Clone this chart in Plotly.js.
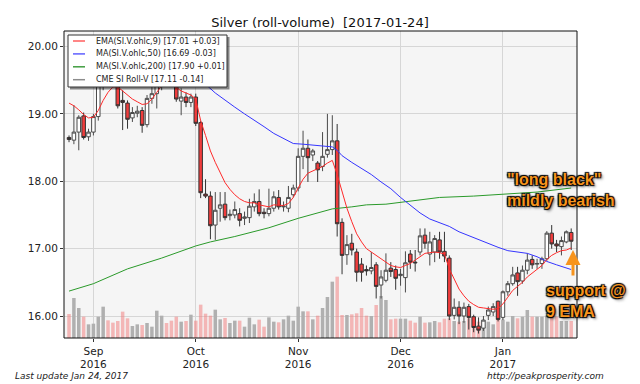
<!DOCTYPE html>
<html><head><meta charset="utf-8">
<script src="https://cdn.plot.ly/plotly-3.0.1.min.js"></script>
<style>html,body{margin:0;padding:0;background:#fff;}#chart{width:640px;height:384px;}</style>
</head><body><div id="chart"></div>
<script>
const dates = [
 '2016-08-25','2016-08-26','2016-08-29','2016-08-30','2016-08-31',
 '2016-09-01','2016-09-02','2016-09-06','2016-09-07','2016-09-08','2016-09-09','2016-09-12','2016-09-13','2016-09-14','2016-09-15','2016-09-16','2016-09-19','2016-09-20','2016-09-21','2016-09-22','2016-09-23','2016-09-26','2016-09-27','2016-09-28','2016-09-29','2016-09-30',
 '2016-10-03','2016-10-04','2016-10-05','2016-10-06','2016-10-07','2016-10-10','2016-10-11','2016-10-12','2016-10-13','2016-10-14','2016-10-17','2016-10-18','2016-10-19','2016-10-20','2016-10-21','2016-10-24','2016-10-25','2016-10-26','2016-10-27','2016-10-28','2016-10-31',
 '2016-11-01','2016-11-02','2016-11-03','2016-11-04','2016-11-07','2016-11-08','2016-11-09','2016-11-10','2016-11-11','2016-11-14','2016-11-15','2016-11-16','2016-11-17','2016-11-18','2016-11-21','2016-11-22','2016-11-23','2016-11-25','2016-11-28','2016-11-29','2016-11-30',
 '2016-12-01','2016-12-02','2016-12-05','2016-12-06','2016-12-07','2016-12-08','2016-12-09','2016-12-12','2016-12-13','2016-12-14','2016-12-15','2016-12-16','2016-12-19','2016-12-20','2016-12-21','2016-12-22','2016-12-23','2016-12-27','2016-12-28','2016-12-29','2016-12-30',
 '2017-01-03','2017-01-04','2017-01-05','2017-01-06','2017-01-09','2017-01-10','2017-01-11','2017-01-12','2017-01-13','2017-01-17','2017-01-18','2017-01-19','2017-01-20','2017-01-23','2017-01-24'
];
const openP = [18.65,18.61,18.73,18.97,18.66,18.73,18.96,19.43,19.75,19.70,
 19.55,19.20,19.16,18.94,19.01,19.05,18.84,19.23,19.30,19.45,
 19.80,19.72,19.55,19.19,19.25,19.17,19.25,18.87,17.81,17.78,
 17.35,17.60,17.66,17.49,17.50,17.52,17.45,17.46,17.62,17.70,
 17.54,17.52,17.60,17.76,17.62,17.60,17.80,17.90,18.37,18.49,
 18.39,18.27,18.22,18.40,18.47,18.60,17.39,16.91,17.08,16.95,
 16.77,16.69,16.67,16.76,16.46,16.53,16.71,16.69,16.60,16.57,
 16.92,16.80,16.95,17.20,16.92,16.95,17.13,16.96,16.86,16.01,
 16.13,16.00,16.14,15.99,15.85,15.82,16.01,16.06,16.22,15.98,
 16.36,16.48,16.64,16.52,16.68,16.84,16.77,16.78,16.85,17.23,
 17.07,17.03,17.10,17.24];
const highP = [18.68,19.13,18.98,19.02,18.78,19.00,19.50,19.80,19.95,19.78,
 19.60,19.35,19.20,19.10,19.12,19.10,19.28,19.40,19.55,19.75,
 19.92,19.78,19.60,19.38,19.32,19.30,19.30,18.90,18.03,17.85,
 17.84,17.84,17.84,17.58,17.70,17.60,17.55,17.74,17.82,17.88,
 17.60,17.89,17.85,17.87,17.70,17.93,17.95,18.49,18.75,18.62,
 18.48,18.30,18.73,19.00,18.98,18.85,17.45,17.20,17.22,17.00,
 16.86,16.75,16.95,16.80,16.68,16.93,16.80,16.75,16.70,16.96,
 16.98,16.98,17.30,17.30,17.25,17.20,17.25,17.25,16.90,16.26,
 16.22,16.20,16.18,16.02,15.98,16.00,16.14,16.19,16.23,16.38,
 16.52,16.73,16.73,16.75,16.93,16.90,16.85,16.88,17.26,17.35,
 17.13,17.18,17.27,17.30];
const lowP = [18.58,18.55,18.46,18.62,18.60,18.68,18.90,19.35,19.60,19.50,
 19.08,18.76,18.78,18.88,18.95,18.72,18.80,19.15,19.08,19.35,
 19.60,19.50,19.18,18.98,19.10,19.10,18.82,17.75,17.75,17.14,
 17.13,17.40,17.42,17.42,17.45,17.33,17.35,17.38,17.55,17.48,
 17.45,17.48,17.55,17.58,17.55,17.54,17.76,17.85,18.18,17.99,
 18.30,17.99,18.15,18.35,18.39,17.18,16.62,16.76,16.90,16.51,
 16.51,16.60,16.62,16.26,16.26,16.50,16.58,16.39,16.45,16.35,
 16.70,16.66,16.90,17.00,16.75,16.80,16.85,16.80,15.94,15.95,
 15.88,15.90,15.80,15.76,15.74,15.78,15.94,16.00,15.92,15.94,
 16.30,16.45,16.30,16.48,16.62,16.70,16.70,16.70,16.82,17.00,
 16.95,16.90,17.08,16.98];
const closeP = [18.62,18.73,18.95,18.65,18.73,18.96,19.43,19.75,19.70,19.55,
 19.12,19.17,18.92,19.02,19.04,18.83,19.23,19.30,19.45,19.70,
 19.72,19.55,19.22,19.25,19.17,19.25,18.86,17.83,17.78,17.34,
 17.57,17.65,17.46,17.51,17.58,17.42,17.47,17.63,17.70,17.52,
 17.52,17.60,17.77,17.62,17.63,17.76,17.90,18.37,18.49,18.35,
 18.45,18.17,18.37,18.47,18.60,17.37,16.90,17.06,16.98,16.65,
 16.65,16.67,16.72,16.44,16.58,16.68,16.66,16.56,16.62,16.79,
 16.80,16.79,17.19,17.08,17.10,17.15,16.95,16.89,16.00,16.13,
 16.00,16.13,15.98,15.83,15.79,15.94,16.09,16.14,15.95,16.36,
 16.48,16.61,16.51,16.68,16.83,16.76,16.78,16.85,17.23,17.07,
 17.04,17.12,17.25,17.11];
const volume = [72,120,90,64,41,43,64,94,53,46,
 51,79,59,36,41,39,45,34,82,67,
 45,52,64,49,51,70,52,100,73,67,
 85,56,60,45,52,52,34,61,41,55,
 34,62,49,47,56,67,52,94,80,80,
 56,67,90,123,169,184,69,69,71,74,
 90,67,66,99,126,114,56,58,58,58,
 52,46,64,46,47,51,47,58,59,51,
 49,51,59,39,49,39,49,41,59,55,
 49,66,59,64,84,64,64,64,66,64,
 64,51,51,51];
const ema9 = [19.16,19.12,19.06,18.99,18.94,18.95,19.05,19.20,19.32,19.40,
 19.40,19.34,19.28,19.22,19.18,19.14,19.15,19.22,19.32,19.42,
 19.48,19.45,19.39,19.34,19.31,19.28,19.22,18.90,18.68,18.45,
 18.28,18.12,17.98,17.88,17.80,17.74,17.70,17.68,17.68,17.65,
 17.63,17.62,17.65,17.65,17.64,17.67,17.76,17.90,18.03,18.12,
 18.15,18.18,18.22,18.27,18.31,18.10,17.85,17.60,17.40,17.22,
 17.10,17.00,16.95,16.90,16.86,16.80,16.75,16.73,16.72,16.75,
 16.78,16.83,16.88,16.93,16.94,16.95,16.94,16.92,16.70,16.55,
 16.40,16.30,16.22,16.17,16.13,16.12,16.11,16.10,16.11,16.18,
 16.28,16.38,16.44,16.50,16.58,16.64,16.70,16.75,16.84,16.90,
 16.94,16.97,16.98,17.01];
const ma50Idx = [26,28,30,32,34,36,38,40,42,44,46,48,50,52,54,55,56,58,60,62,64,66,68,70,72,74,76,78,80,83,86,88,90,92,94,96,98,100,102,103];
const ma50Val = [19.55,19.44,19.31,19.20,19.10,19.00,18.91,18.81,18.71,18.64,18.56,18.55,18.54,18.53,18.51,18.46,18.38,18.28,18.19,18.10,17.99,17.89,17.76,17.64,17.53,17.44,17.39,17.33,17.25,17.16,17.07,17.02,16.97,16.95,16.93,16.88,16.81,16.76,16.72,16.69];
const ma200Idx = [0,5,12,19,26,29,34,39,41,47,54,58,61,65,69,73,76,83,90,96,103];
const ma200Val = [16.37,16.48,16.70,16.86,17.04,17.10,17.18,17.27,17.31,17.45,17.59,17.62,17.65,17.66,17.70,17.73,17.76,17.78,17.81,17.84,17.90];
const tickDates = ['2016-09-01','2016-10-03','2016-11-01','2016-12-01','2017-01-03'];
const tickLabels = ['Sep<br>2016','Oct<br>2016','Nov<br>2016','Dec<br>2016','Jan<br>2017'];
const priceTicks = [16,17,18,19,20];
const legendLabels = ['EMA(SI.V.ohlc,9) [17.01 +0.03]','MA(SI.V.ohlc,50) [16.69 -0.03]','MA(SI.V.ohlc,200) [17.90 +0.01]','CME SI Roll-V [17.11 -0.14]'];
const legendColors = ['rgba(255,40,40,0.75)','rgba(40,40,255,0.75)','rgba(30,140,30,0.85)','#8c8c8c'];
const titleText = 'Silver (roll-volume)\u00a0 [2017-01-24]';

// plot box in pixels
const L=64, R=577, T=31, B=338;
const px = x => (x-L)/(R-L);
const py = y => (B-y)/(B-T);

const volColors = closeP.map((c,i) => c < openP[i] ? 'rgba(240,130,130,0.55)' : '#b0b0b0');

const traces = [
 {type:'bar', x:dates, y:volume, yaxis:'y', xaxis:'x', marker:{color:volColors, line:{width:0}}, hoverinfo:'skip'},
 {type:'candlestick', x:dates, open:openP, high:highP, low:lowP, close:closeP, yaxis:'y2', xaxis:'x',
  line:{width:1}, whiskerwidth:0,
  increasing:{line:{color:'#4a4a4a'}, fillcolor:'#ffffff'},
  decreasing:{line:{color:'#333333'}, fillcolor:'#f03c3c'}},
 {type:'scatter', mode:'lines', x:ma200Idx.map(i=>dates[i]), y:ma200Val, yaxis:'y2', line:{color:'#2a9a2a', width:1}},
 {type:'scatter', mode:'lines', x:ma50Idx.map(i=>dates[i]), y:ma50Val, yaxis:'y2', line:{color:'#3535ff', width:1}},
 {type:'scatter', mode:'lines', x:dates, y:ema9, yaxis:'y2', line:{color:'#ff2a2a', width:1}}
];

const shapes = [
 {type:'rect', xref:'paper', yref:'paper', x0:0, x1:1, y0:0, y1:1, line:{color:'#111', width:1}, fillcolor:'rgba(0,0,0,0)', layer:'above'},
 {type:'rect', xref:'paper', yref:'paper', x0:px(70), x1:px(229.5), y0:py(89.5), y1:py(37), line:{width:0}, fillcolor:'rgba(0,0,0,0.45)', layer:'above'},
 {type:'rect', xref:'paper', yref:'paper', x0:px(68), x1:px(227), y0:py(87), y1:py(35), line:{color:'#333', width:1}, fillcolor:'#ffffff', layer:'above'}
];
const rowY = [41, 53.9, 66.8, 79.7];
const annotations = [];
legendLabels.forEach((t,k) => {
  shapes.push({type:'line', xref:'paper', yref:'paper', x0:px(73), x1:px(85), y0:py(rowY[k]), y1:py(rowY[k]), line:{color:legendColors[k], width:1.5}, layer:'above'});
  annotations.push({xref:'paper', yref:'paper', x:px(93.5), y:py(rowY[k]), xanchor:'left', yanchor:'middle', text:t, showarrow:false, font:{size:8, color:'#222'}});
});
const glow = '1px 1px 1px #000, -1px -1px 1px #000, 1px -1px 1px #000, -1px 1px 1px #000, 2px 2px 3px rgba(0,0,0,0.6)';
annotations.push(
 {xref:'paper', yref:'paper', x:px(505), y:py(190), xanchor:'left', yanchor:'middle', align:'left', showarrow:false,
  text:'"long black"<br>mildly bearish', font:{family:'Liberation Sans, Arial, sans-serif', size:16, weight:'bold', color:'#F7941D', shadow:glow}},
 {xref:'paper', yref:'paper', x:px(544), y:py(300.5), xanchor:'left', yanchor:'middle', align:'left', showarrow:false,
  text:'support @<br>9 EMA', font:{family:'Liberation Sans, Arial, sans-serif', size:16, weight:'bold', color:'#F7941D', shadow:glow}},
 {xref:'paper', yref:'paper', x:px(573), y:py(250), text:'', showarrow:true, ax:0, ay:27, arrowhead:2, arrowsize:1, arrowwidth:3, arrowcolor:'#F7941D', standoff:0},
 {xref:'paper', yref:'paper', x:px(12.5), y:py(376), xanchor:'left', yanchor:'middle', showarrow:false,
  text:'Last update Jan 24, 2017', font:{size:9, style:'italic', color:'#222'}},
 {xref:'paper', yref:'paper', x:px(606), y:py(376), xanchor:'right', yanchor:'middle', showarrow:false,
  text:'http://peakprosperity.com', font:{size:9, style:'italic', color:'#222'}}
);

const layout = {
 width:640, height:384,
 margin:{l:L, r:640-R, t:T, b:384-B, pad:0},
 paper_bgcolor:'#ffffff', plot_bgcolor:'#f5f5f5',
 font:{family:'DejaVu Sans, sans-serif', size:10.5, color:'#222'},
 title:{text:titleText, font:{size:13, color:'#111'}, x:0.5, xanchor:'center', y:1-22/384, yanchor:'middle'},
 showlegend:false,
 bargap:0.28,
 boxgap:0.15, boxgroupgap:0.15,
 xaxis:{type:'category', range:[-1.03,104.19], tickmode:'array', tickvals:tickDates, ticktext:tickLabels,
   showgrid:true, gridcolor:'#d6d6d6', gridwidth:1, ticks:'outside', ticklen:3, tickcolor:'#333',
   rangeslider:{visible:false}, showline:false, zeroline:false, fixedrange:true},
 yaxis:{range:[0,921], visible:false, fixedrange:true},
 yaxis2:{overlaying:'y', side:'left', range:[15.674,20.23], tickmode:'array', tickvals:priceTicks, tickformat:'.2f',
   showgrid:true, gridcolor:'#d6d6d6', gridwidth:1, ticks:'outside', ticklen:3, tickcolor:'#333', zeroline:false, fixedrange:true},
 shapes:shapes,
 annotations:annotations
};
Plotly.newPlot('chart', traces, layout, {displayModeBar:false, staticPlot:true});
</script></body></html>
